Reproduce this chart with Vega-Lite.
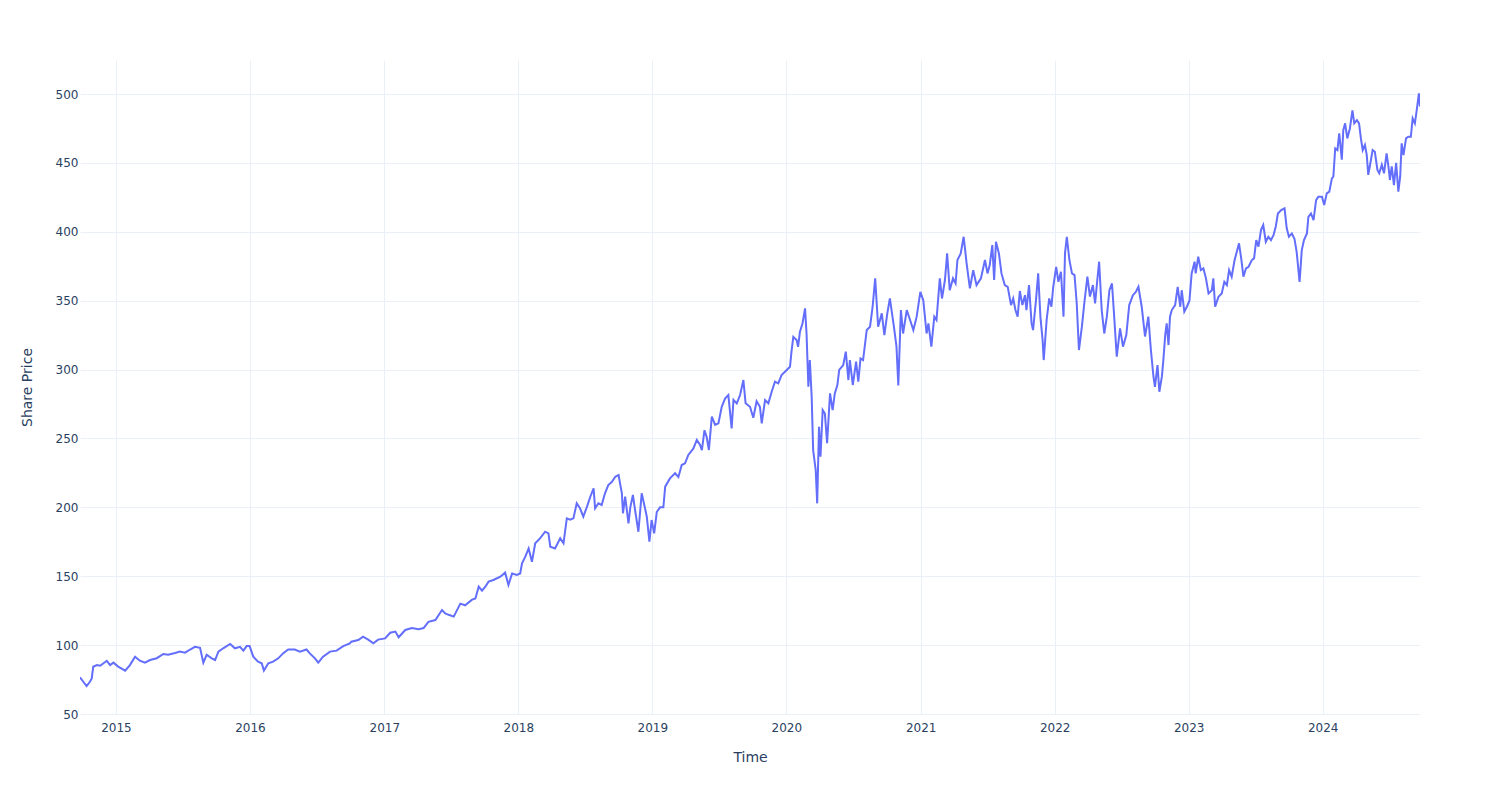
{
  "$schema": "https://vega.github.io/schema/vega-lite/v6.json",
  "width": 1340,
  "height": 654,
  "autosize": {"type": "none"},
  "padding": {"left": 80, "top": 60, "right": 80, "bottom": 86},
  "background": "white",
  "config": {
    "view": {"stroke": null},
    "font": "DejaVu Sans",
    "axis": {
      "domain": false,
      "ticks": false,
      "grid": true,
      "gridColor": "#ebf0f8",
      "gridWidth": 1,
      "labelColor": "#2a3f5f",
      "labelFont": "DejaVu Sans",
      "labelFontSize": 12,
      "titleColor": "#2a3f5f",
      "titleFont": "DejaVu Sans",
      "titleFontSize": 14,
      "titleFontWeight": "normal"
    }
  },
  "data": {
    "values": [
      {"date": "2014-09-25", "price": 76.6},
      {"date": "2014-10-04", "price": 73.4},
      {"date": "2014-10-13", "price": 70.3},
      {"date": "2014-10-22", "price": 73.4},
      {"date": "2014-10-27", "price": 75.8},
      {"date": "2014-10-31", "price": 84.3},
      {"date": "2014-11-10", "price": 85.5},
      {"date": "2014-11-19", "price": 85.0},
      {"date": "2014-12-07", "price": 88.6},
      {"date": "2014-12-16", "price": 85.5},
      {"date": "2014-12-25", "price": 87.3},
      {"date": "2015-01-07", "price": 84.4},
      {"date": "2015-01-26", "price": 81.5},
      {"date": "2015-02-08", "price": 85.5},
      {"date": "2015-02-22", "price": 91.6},
      {"date": "2015-03-07", "price": 88.7},
      {"date": "2015-03-21", "price": 87.3},
      {"date": "2015-04-04", "price": 89.2},
      {"date": "2015-04-22", "price": 90.5},
      {"date": "2015-05-10", "price": 93.6},
      {"date": "2015-05-23", "price": 93.1},
      {"date": "2015-06-11", "price": 94.3},
      {"date": "2015-06-24", "price": 95.3},
      {"date": "2015-07-08", "price": 94.5},
      {"date": "2015-07-22", "price": 96.8},
      {"date": "2015-08-04", "price": 98.8},
      {"date": "2015-08-18", "price": 98.0},
      {"date": "2015-08-27", "price": 87.3},
      {"date": "2015-09-05", "price": 93.0},
      {"date": "2015-09-19", "price": 90.4},
      {"date": "2015-09-28", "price": 89.2},
      {"date": "2015-10-07", "price": 95.3},
      {"date": "2015-10-20", "price": 97.7},
      {"date": "2015-11-08", "price": 100.8},
      {"date": "2015-11-21", "price": 97.7},
      {"date": "2015-12-05", "price": 98.8},
      {"date": "2015-12-14", "price": 96.0},
      {"date": "2015-12-23", "price": 99.3},
      {"date": "2015-12-31", "price": 99.3},
      {"date": "2016-01-10", "price": 91.6},
      {"date": "2016-01-23", "price": 88.0},
      {"date": "2016-02-02", "price": 86.8},
      {"date": "2016-02-08", "price": 81.5},
      {"date": "2016-02-20", "price": 86.8},
      {"date": "2016-03-04", "price": 88.0},
      {"date": "2016-03-18", "price": 90.4},
      {"date": "2016-03-31", "price": 94.0},
      {"date": "2016-04-14", "price": 96.8},
      {"date": "2016-05-02", "price": 96.8},
      {"date": "2016-05-16", "price": 95.3},
      {"date": "2016-06-03", "price": 96.8},
      {"date": "2016-06-12", "price": 94.0},
      {"date": "2016-06-26", "price": 90.4},
      {"date": "2016-07-05", "price": 87.3},
      {"date": "2016-07-18", "price": 91.6},
      {"date": "2016-08-06", "price": 95.3},
      {"date": "2016-08-24", "price": 96.0},
      {"date": "2016-09-11", "price": 99.3},
      {"date": "2016-09-29", "price": 101.2},
      {"date": "2016-10-03", "price": 102.5},
      {"date": "2016-10-22", "price": 103.7},
      {"date": "2016-11-04", "price": 106.1},
      {"date": "2016-11-18", "price": 104.0},
      {"date": "2016-12-02", "price": 101.3},
      {"date": "2016-12-15", "price": 104.0},
      {"date": "2017-01-03", "price": 104.9},
      {"date": "2017-01-17", "price": 109.0},
      {"date": "2017-01-31", "price": 109.8},
      {"date": "2017-02-09", "price": 105.7},
      {"date": "2017-02-27", "price": 111.0},
      {"date": "2017-03-17", "price": 112.4},
      {"date": "2017-04-04", "price": 111.6},
      {"date": "2017-04-18", "price": 112.4},
      {"date": "2017-05-01", "price": 116.9},
      {"date": "2017-05-20", "price": 118.2},
      {"date": "2017-06-07", "price": 125.5},
      {"date": "2017-06-16", "price": 123.0},
      {"date": "2017-06-25", "price": 122.0},
      {"date": "2017-07-09", "price": 120.7},
      {"date": "2017-07-27", "price": 130.1},
      {"date": "2017-08-09", "price": 128.9},
      {"date": "2017-08-28", "price": 133.0},
      {"date": "2017-09-06", "price": 133.8},
      {"date": "2017-09-15", "price": 142.4},
      {"date": "2017-09-24", "price": 139.5},
      {"date": "2017-10-03", "price": 142.4},
      {"date": "2017-10-12", "price": 146.1},
      {"date": "2017-10-25", "price": 147.3},
      {"date": "2017-11-13", "price": 149.7},
      {"date": "2017-11-26", "price": 152.6},
      {"date": "2017-12-05", "price": 143.6},
      {"date": "2017-12-15", "price": 152.0},
      {"date": "2017-12-28", "price": 151.0},
      {"date": "2018-01-06", "price": 152.0},
      {"date": "2018-01-11", "price": 159.4},
      {"date": "2018-01-20", "price": 164.2},
      {"date": "2018-01-29", "price": 170.2},
      {"date": "2018-02-07", "price": 160.5},
      {"date": "2018-02-16", "price": 173.9},
      {"date": "2018-03-01", "price": 177.5},
      {"date": "2018-03-15", "price": 182.3},
      {"date": "2018-03-24", "price": 181.1},
      {"date": "2018-03-29", "price": 171.4},
      {"date": "2018-04-11", "price": 170.2},
      {"date": "2018-04-25", "price": 177.5},
      {"date": "2018-05-04", "price": 173.9},
      {"date": "2018-05-13", "price": 192.0},
      {"date": "2018-05-22", "price": 191.0},
      {"date": "2018-05-31", "price": 192.0},
      {"date": "2018-06-09", "price": 202.9},
      {"date": "2018-06-18", "price": 199.3},
      {"date": "2018-06-27", "price": 193.2},
      {"date": "2018-07-07", "price": 200.5},
      {"date": "2018-07-16", "price": 207.7},
      {"date": "2018-07-25", "price": 213.8},
      {"date": "2018-07-29", "price": 199.3},
      {"date": "2018-08-07", "price": 202.9},
      {"date": "2018-08-16", "price": 201.7},
      {"date": "2018-08-25", "price": 210.2},
      {"date": "2018-09-03", "price": 216.2},
      {"date": "2018-09-13", "price": 218.6},
      {"date": "2018-09-22", "price": 222.2},
      {"date": "2018-10-01", "price": 223.5},
      {"date": "2018-10-05", "price": 217.4},
      {"date": "2018-10-10", "price": 210.2},
      {"date": "2018-10-13", "price": 195.7},
      {"date": "2018-10-19", "price": 207.7},
      {"date": "2018-10-28", "price": 188.4},
      {"date": "2018-11-02", "price": 200.0},
      {"date": "2018-11-09", "price": 209.0},
      {"date": "2018-11-15", "price": 198.0},
      {"date": "2018-11-24", "price": 182.3},
      {"date": "2018-12-03", "price": 210.2},
      {"date": "2018-12-12", "price": 199.3},
      {"date": "2018-12-17", "price": 193.0},
      {"date": "2018-12-24", "price": 175.1},
      {"date": "2018-12-30", "price": 190.8},
      {"date": "2019-01-06", "price": 181.1},
      {"date": "2019-01-13", "price": 196.6},
      {"date": "2019-01-22", "price": 200.0},
      {"date": "2019-01-31", "price": 200.0},
      {"date": "2019-02-05", "price": 215.0},
      {"date": "2019-02-18", "price": 221.0},
      {"date": "2019-03-04", "price": 224.7},
      {"date": "2019-03-13", "price": 222.0},
      {"date": "2019-03-22", "price": 230.7},
      {"date": "2019-03-31", "price": 232.0},
      {"date": "2019-04-09", "price": 238.0},
      {"date": "2019-04-23", "price": 242.8},
      {"date": "2019-05-02", "price": 248.9},
      {"date": "2019-05-11", "price": 245.2},
      {"date": "2019-05-16", "price": 241.6},
      {"date": "2019-05-23", "price": 256.0},
      {"date": "2019-05-29", "price": 251.0},
      {"date": "2019-06-04", "price": 241.6},
      {"date": "2019-06-12", "price": 265.8},
      {"date": "2019-06-21", "price": 259.8},
      {"date": "2019-06-30", "price": 261.0},
      {"date": "2019-07-09", "price": 273.0},
      {"date": "2019-07-18", "price": 279.0},
      {"date": "2019-07-27", "price": 281.5},
      {"date": "2019-08-05", "price": 257.3},
      {"date": "2019-08-10", "price": 278.0},
      {"date": "2019-08-19", "price": 275.5},
      {"date": "2019-08-28", "price": 281.5},
      {"date": "2019-09-06", "price": 292.4},
      {"date": "2019-09-12", "price": 275.5},
      {"date": "2019-09-24", "price": 273.0},
      {"date": "2019-10-03", "price": 265.0},
      {"date": "2019-10-12", "price": 277.0},
      {"date": "2019-10-21", "price": 273.0},
      {"date": "2019-10-26", "price": 261.0},
      {"date": "2019-11-04", "price": 277.9},
      {"date": "2019-11-13", "price": 275.5},
      {"date": "2019-11-22", "price": 283.9},
      {"date": "2019-12-01", "price": 291.2},
      {"date": "2019-12-10", "price": 290.0},
      {"date": "2019-12-19", "price": 296.0},
      {"date": "2020-01-02", "price": 299.7},
      {"date": "2020-01-11", "price": 302.1},
      {"date": "2020-01-15", "price": 313.0},
      {"date": "2020-01-20", "price": 323.8},
      {"date": "2020-01-29", "price": 321.4},
      {"date": "2020-02-02", "price": 316.5},
      {"date": "2020-02-07", "price": 327.4},
      {"date": "2020-02-14", "price": 333.5},
      {"date": "2020-02-21", "price": 344.4},
      {"date": "2020-02-25", "price": 326.2},
      {"date": "2020-03-01", "price": 287.5},
      {"date": "2020-03-05", "price": 306.9},
      {"date": "2020-03-10", "price": 280.3},
      {"date": "2020-03-14", "price": 241.6},
      {"date": "2020-03-21", "price": 227.1},
      {"date": "2020-03-25", "price": 202.9},
      {"date": "2020-03-30", "price": 258.5},
      {"date": "2020-04-03", "price": 236.7},
      {"date": "2020-04-09", "price": 270.6},
      {"date": "2020-04-15", "price": 268.0},
      {"date": "2020-04-21", "price": 246.5},
      {"date": "2020-04-29", "price": 282.7},
      {"date": "2020-05-06", "price": 270.6},
      {"date": "2020-05-12", "price": 282.7},
      {"date": "2020-05-19", "price": 288.8},
      {"date": "2020-05-24", "price": 299.7},
      {"date": "2020-06-04", "price": 303.3},
      {"date": "2020-06-11", "price": 313.0},
      {"date": "2020-06-18", "price": 292.4},
      {"date": "2020-06-22", "price": 306.9},
      {"date": "2020-06-30", "price": 288.8},
      {"date": "2020-07-09", "price": 305.7},
      {"date": "2020-07-15", "price": 291.2},
      {"date": "2020-07-21", "price": 308.1},
      {"date": "2020-07-28", "price": 306.9},
      {"date": "2020-08-07", "price": 328.7},
      {"date": "2020-08-16", "price": 331.1},
      {"date": "2020-08-23", "price": 345.6},
      {"date": "2020-08-30", "price": 366.2},
      {"date": "2020-09-07", "price": 331.1},
      {"date": "2020-09-17", "price": 340.8},
      {"date": "2020-09-24", "price": 325.0},
      {"date": "2020-10-02", "price": 340.8},
      {"date": "2020-10-09", "price": 351.6},
      {"date": "2020-10-20", "price": 331.1},
      {"date": "2020-10-27", "price": 316.6},
      {"date": "2020-11-01", "price": 288.5},
      {"date": "2020-11-08", "price": 343.2},
      {"date": "2020-11-14", "price": 326.2},
      {"date": "2020-11-24", "price": 343.2},
      {"date": "2020-12-03", "price": 336.0},
      {"date": "2020-12-12", "price": 328.7},
      {"date": "2020-12-21", "price": 338.4},
      {"date": "2020-12-31", "price": 356.4},
      {"date": "2021-01-08", "price": 350.4},
      {"date": "2021-01-17", "price": 326.2},
      {"date": "2021-01-22", "price": 333.5},
      {"date": "2021-01-30", "price": 316.6},
      {"date": "2021-02-07", "price": 338.4},
      {"date": "2021-02-13", "price": 336.0},
      {"date": "2021-02-22", "price": 366.2},
      {"date": "2021-02-28", "price": 351.6},
      {"date": "2021-03-08", "price": 365.0},
      {"date": "2021-03-14", "price": 384.3},
      {"date": "2021-03-21", "price": 357.6},
      {"date": "2021-03-30", "price": 366.2},
      {"date": "2021-04-06", "price": 362.5},
      {"date": "2021-04-11", "price": 379.5},
      {"date": "2021-04-20", "price": 384.3},
      {"date": "2021-04-28", "price": 396.4},
      {"date": "2021-05-06", "price": 377.1},
      {"date": "2021-05-15", "price": 358.9},
      {"date": "2021-05-24", "price": 372.2},
      {"date": "2021-06-02", "price": 361.3},
      {"date": "2021-06-14", "price": 366.2},
      {"date": "2021-06-25", "price": 379.5},
      {"date": "2021-07-02", "price": 369.8},
      {"date": "2021-07-08", "price": 375.9},
      {"date": "2021-07-15", "price": 390.4},
      {"date": "2021-07-20", "price": 365.0},
      {"date": "2021-07-25", "price": 392.8},
      {"date": "2021-08-02", "price": 384.3},
      {"date": "2021-08-09", "price": 369.8},
      {"date": "2021-08-18", "price": 361.3},
      {"date": "2021-08-26", "price": 360.1},
      {"date": "2021-09-04", "price": 346.8},
      {"date": "2021-09-10", "price": 351.6},
      {"date": "2021-09-16", "price": 343.2},
      {"date": "2021-09-22", "price": 338.4},
      {"date": "2021-09-28", "price": 357.0},
      {"date": "2021-10-05", "price": 346.8},
      {"date": "2021-10-12", "price": 354.0},
      {"date": "2021-10-16", "price": 343.2},
      {"date": "2021-10-23", "price": 361.3},
      {"date": "2021-10-30", "price": 333.5},
      {"date": "2021-11-03", "price": 328.7},
      {"date": "2021-11-11", "price": 350.4},
      {"date": "2021-11-17", "price": 369.8},
      {"date": "2021-11-23", "price": 338.4},
      {"date": "2021-11-29", "price": 321.4},
      {"date": "2021-12-02", "price": 306.9},
      {"date": "2021-12-10", "price": 336.0},
      {"date": "2021-12-17", "price": 351.6},
      {"date": "2021-12-23", "price": 345.6},
      {"date": "2021-12-28", "price": 360.1},
      {"date": "2022-01-05", "price": 374.6},
      {"date": "2022-01-11", "price": 363.7},
      {"date": "2022-01-18", "price": 371.0},
      {"date": "2022-01-25", "price": 338.4},
      {"date": "2022-01-29", "price": 384.3},
      {"date": "2022-02-03", "price": 396.4},
      {"date": "2022-02-10", "price": 379.5},
      {"date": "2022-02-17", "price": 369.8},
      {"date": "2022-02-24", "price": 368.6},
      {"date": "2022-03-02", "price": 348.0},
      {"date": "2022-03-08", "price": 314.2},
      {"date": "2022-03-16", "price": 331.1},
      {"date": "2022-03-23", "price": 349.2},
      {"date": "2022-03-31", "price": 367.4},
      {"date": "2022-04-07", "price": 353.0},
      {"date": "2022-04-15", "price": 361.3},
      {"date": "2022-04-21", "price": 348.0},
      {"date": "2022-04-27", "price": 365.0},
      {"date": "2022-05-02", "price": 378.3},
      {"date": "2022-05-09", "price": 343.2},
      {"date": "2022-05-16", "price": 326.2},
      {"date": "2022-05-23", "price": 338.4},
      {"date": "2022-05-30", "price": 357.6},
      {"date": "2022-06-06", "price": 362.5},
      {"date": "2022-06-12", "price": 338.4},
      {"date": "2022-06-19", "price": 309.4},
      {"date": "2022-06-28", "price": 329.9},
      {"date": "2022-07-06", "price": 316.6},
      {"date": "2022-07-15", "price": 325.0},
      {"date": "2022-07-23", "price": 346.8},
      {"date": "2022-08-02", "price": 354.0},
      {"date": "2022-08-10", "price": 356.4},
      {"date": "2022-08-17", "price": 360.1},
      {"date": "2022-08-26", "price": 345.6},
      {"date": "2022-09-04", "price": 324.0},
      {"date": "2022-09-13", "price": 338.4},
      {"date": "2022-09-20", "price": 314.2},
      {"date": "2022-09-27", "price": 294.8},
      {"date": "2022-10-01", "price": 287.5},
      {"date": "2022-10-08", "price": 303.3},
      {"date": "2022-10-13", "price": 283.9},
      {"date": "2022-10-20", "price": 295.0},
      {"date": "2022-10-24", "price": 307.0},
      {"date": "2022-10-29", "price": 325.0},
      {"date": "2022-11-02", "price": 333.5},
      {"date": "2022-11-07", "price": 317.8},
      {"date": "2022-11-11", "price": 338.4},
      {"date": "2022-11-16", "price": 343.2},
      {"date": "2022-11-25", "price": 346.8},
      {"date": "2022-12-02", "price": 360.1},
      {"date": "2022-12-09", "price": 345.6},
      {"date": "2022-12-13", "price": 357.6},
      {"date": "2022-12-20", "price": 342.0},
      {"date": "2022-12-27", "price": 345.6},
      {"date": "2023-01-03", "price": 350.0},
      {"date": "2023-01-09", "price": 369.8},
      {"date": "2023-01-17", "price": 378.3},
      {"date": "2023-01-20", "price": 369.8},
      {"date": "2023-01-27", "price": 381.9},
      {"date": "2023-02-03", "price": 372.2},
      {"date": "2023-02-10", "price": 373.4},
      {"date": "2023-02-17", "price": 366.2},
      {"date": "2023-02-24", "price": 355.2},
      {"date": "2023-03-05", "price": 357.6},
      {"date": "2023-03-09", "price": 366.2},
      {"date": "2023-03-14", "price": 345.6},
      {"date": "2023-03-23", "price": 352.8},
      {"date": "2023-04-01", "price": 355.2},
      {"date": "2023-04-08", "price": 363.7},
      {"date": "2023-04-15", "price": 361.3},
      {"date": "2023-04-21", "price": 372.2},
      {"date": "2023-04-28", "price": 367.4},
      {"date": "2023-05-06", "price": 379.5},
      {"date": "2023-05-12", "price": 385.5},
      {"date": "2023-05-18", "price": 391.6},
      {"date": "2023-05-24", "price": 380.7},
      {"date": "2023-05-30", "price": 367.4},
      {"date": "2023-06-06", "price": 373.4},
      {"date": "2023-06-13", "price": 374.6},
      {"date": "2023-06-22", "price": 379.5},
      {"date": "2023-06-28", "price": 380.7},
      {"date": "2023-07-04", "price": 394.0},
      {"date": "2023-07-10", "price": 389.2},
      {"date": "2023-07-17", "price": 401.4},
      {"date": "2023-07-23", "price": 404.9},
      {"date": "2023-07-30", "price": 392.8},
      {"date": "2023-08-06", "price": 396.4},
      {"date": "2023-08-13", "price": 394.0},
      {"date": "2023-08-20", "price": 397.6},
      {"date": "2023-08-26", "price": 403.7},
      {"date": "2023-09-01", "price": 413.3},
      {"date": "2023-09-10", "price": 415.8},
      {"date": "2023-09-19", "price": 417.0},
      {"date": "2023-09-25", "price": 402.5},
      {"date": "2023-10-01", "price": 396.4},
      {"date": "2023-10-09", "price": 398.8},
      {"date": "2023-10-16", "price": 395.0},
      {"date": "2023-10-22", "price": 385.5},
      {"date": "2023-10-30", "price": 363.7},
      {"date": "2023-11-05", "price": 386.7},
      {"date": "2023-11-11", "price": 394.0},
      {"date": "2023-11-19", "price": 398.8},
      {"date": "2023-11-23", "price": 410.9},
      {"date": "2023-11-30", "price": 413.3},
      {"date": "2023-12-07", "price": 408.5},
      {"date": "2023-12-14", "price": 423.0},
      {"date": "2023-12-20", "price": 425.5},
      {"date": "2023-12-30", "price": 425.5},
      {"date": "2024-01-05", "price": 419.4},
      {"date": "2024-01-12", "price": 427.9},
      {"date": "2024-01-19", "price": 429.1},
      {"date": "2024-01-26", "price": 438.8},
      {"date": "2024-01-30", "price": 440.0},
      {"date": "2024-02-04", "price": 460.5},
      {"date": "2024-02-10", "price": 459.3},
      {"date": "2024-02-15", "price": 471.4},
      {"date": "2024-02-22", "price": 452.4},
      {"date": "2024-02-26", "price": 473.8},
      {"date": "2024-03-02", "price": 478.7},
      {"date": "2024-03-08", "price": 467.8},
      {"date": "2024-03-15", "price": 475.0},
      {"date": "2024-03-22", "price": 488.1},
      {"date": "2024-03-27", "price": 478.7},
      {"date": "2024-04-03", "price": 481.0},
      {"date": "2024-04-09", "price": 478.7},
      {"date": "2024-04-14", "price": 467.8},
      {"date": "2024-04-19", "price": 459.3},
      {"date": "2024-04-25", "price": 463.0},
      {"date": "2024-04-30", "price": 455.7},
      {"date": "2024-05-04", "price": 441.3},
      {"date": "2024-05-09", "price": 448.7},
      {"date": "2024-05-16", "price": 459.3},
      {"date": "2024-05-22", "price": 458.1},
      {"date": "2024-05-29", "price": 444.9},
      {"date": "2024-06-03", "price": 442.5},
      {"date": "2024-06-10", "price": 448.7},
      {"date": "2024-06-16", "price": 442.5},
      {"date": "2024-06-23", "price": 456.9},
      {"date": "2024-06-28", "price": 447.5},
      {"date": "2024-07-02", "price": 437.6},
      {"date": "2024-07-07", "price": 447.5},
      {"date": "2024-07-13", "price": 433.9},
      {"date": "2024-07-19", "price": 450.0},
      {"date": "2024-07-25", "price": 429.1},
      {"date": "2024-07-30", "price": 440.0},
      {"date": "2024-08-03", "price": 464.2},
      {"date": "2024-08-08", "price": 455.7},
      {"date": "2024-08-15", "price": 467.8},
      {"date": "2024-08-21", "price": 469.0},
      {"date": "2024-08-28", "price": 469.0},
      {"date": "2024-09-02", "price": 482.3},
      {"date": "2024-09-08", "price": 478.7},
      {"date": "2024-09-13", "price": 488.1},
      {"date": "2024-09-19", "price": 500.5},
      {"date": "2024-09-22", "price": 490.9}
    ]
  },
  "mark": {"type": "line", "color": "#636efa", "strokeWidth": 2, "clip": true},
  "encoding": {
    "x": {
      "field": "date",
      "type": "temporal",
      "title": "Time",
      "scale": {
        "type": "utc",
        "domain": [
          {"year": 2014, "month": "sep", "date": 25, "utc": true},
          {"year": 2024, "month": "sep", "date": 22, "utc": true}
        ],
        "nice": false
      },
      "axis": {
        "format": "%Y",
        "tickCount": {"interval": "year", "step": 1},
        "labelPadding": 8,
        "titlePadding": 17,
        "labelFlush": false,
        "labelOverlap": false
      }
    },
    "y": {
      "field": "price",
      "type": "quantitative",
      "title": "Share Price",
      "scale": {"domain": [50, 524.7], "nice": false, "zero": false},
      "axis": {
        "values": [50, 100, 150, 200, 250, 300, 350, 400, 450, 500],
        "labelPadding": 2,
        "titlePadding": 21
      }
    }
  }
}
